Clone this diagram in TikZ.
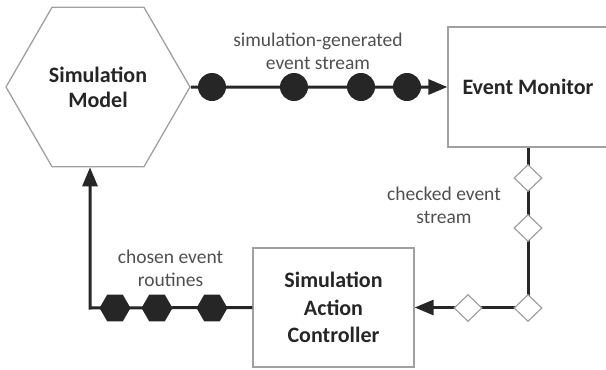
\documentclass[tikz,border=0pt]{standalone}
\usepackage{fontspec}
\setmainfont{Carlito}
\usetikzlibrary{shapes.geometric,arrows.meta}
\definecolor{ink}{RGB}{38,38,38}
\definecolor{lbl}{RGB}{80,80,80}
\definecolor{bord}{RGB}{160,160,160}
\tikzset{
  title/.style={font=\fontsize{22}{25}\selectfont\bfseries, text=ink, align=center},
  lab/.style={font=\fontsize{19.5}{23}\selectfont, text=lbl, align=center, inner sep=0pt},
  boxnode/.style={draw=bord, line width=1.3pt, fill=white, inner sep=0pt},
  conn/.style={draw=ink, line width=3pt},
  tip/.style={-{Triangle[length=19pt,width=15pt]}},
  dot/.style={circle, fill=ink, minimum size=28pt, inner sep=0pt},
  hexdot/.style={regular polygon, regular polygon sides=6, fill=ink, minimum size=31pt, inner sep=0pt},
  dia/.style={diamond, draw=bord, line width=1.2pt, fill=white, minimum width=28pt, minimum height=27pt, inner sep=0pt},
}
\begin{document}
\begin{tikzpicture}[x=1pt,y=-1pt]
\useasboundingbox (0,0) rectangle (606,370);
% main nodes
\node[boxnode, regular polygon, regular polygon sides=6, minimum size=184pt, title] (sim) at (98,87) {Simulation\\Model};
\node[boxnode, minimum width=160pt, minimum height=120pt, title] (em) at (528,87) {Event Monitor};
\node[boxnode, minimum width=161pt, minimum height=119pt, title, font=\fontsize{22}{27.5}\selectfont\bfseries] (sac) at (333.5,307.5) {Simulation\\Action\\Controller};
% corner
\coordinate (bl) at (90,308);
% connectors
\draw[conn, tip] (sim.east) -- (em.west);
\draw[conn, tip] (em.south) -- (em.south |- sac.east) -- (sac.east);
\draw[conn, tip] (sac.west) -- (bl) -- (bl |- sim.south);
% tokens on top stream
\node[dot] (c1) at (212,87) {};
\node[dot] (c2) at (294,87) {};
\node[dot] (c3) at (361,87) {};
\node[dot] (c4) at (407,87) {};
% tokens on checked stream
\node[dia] (d1) at (528,178) {};
\node[dia] (d2) at (528,228) {};
\node[dia] (d3) at (528,308) {};
\node[dia] (d4) at (468,308) {};
% tokens on chosen routines
\node[hexdot] (h1) at (115,308) {};
\node[hexdot] (h2) at (157,308) {};
\node[hexdot] (h3) at (212,308) {};
% labels
\node[lab] (l1) at (318,51) {simulation-generated\\event stream};
\node[lab] (l2) at (444,205) {checked event\\stream};
\node[lab] (l3) at (170.5,268) {chosen event\\routines};
\end{tikzpicture}
\end{document}
